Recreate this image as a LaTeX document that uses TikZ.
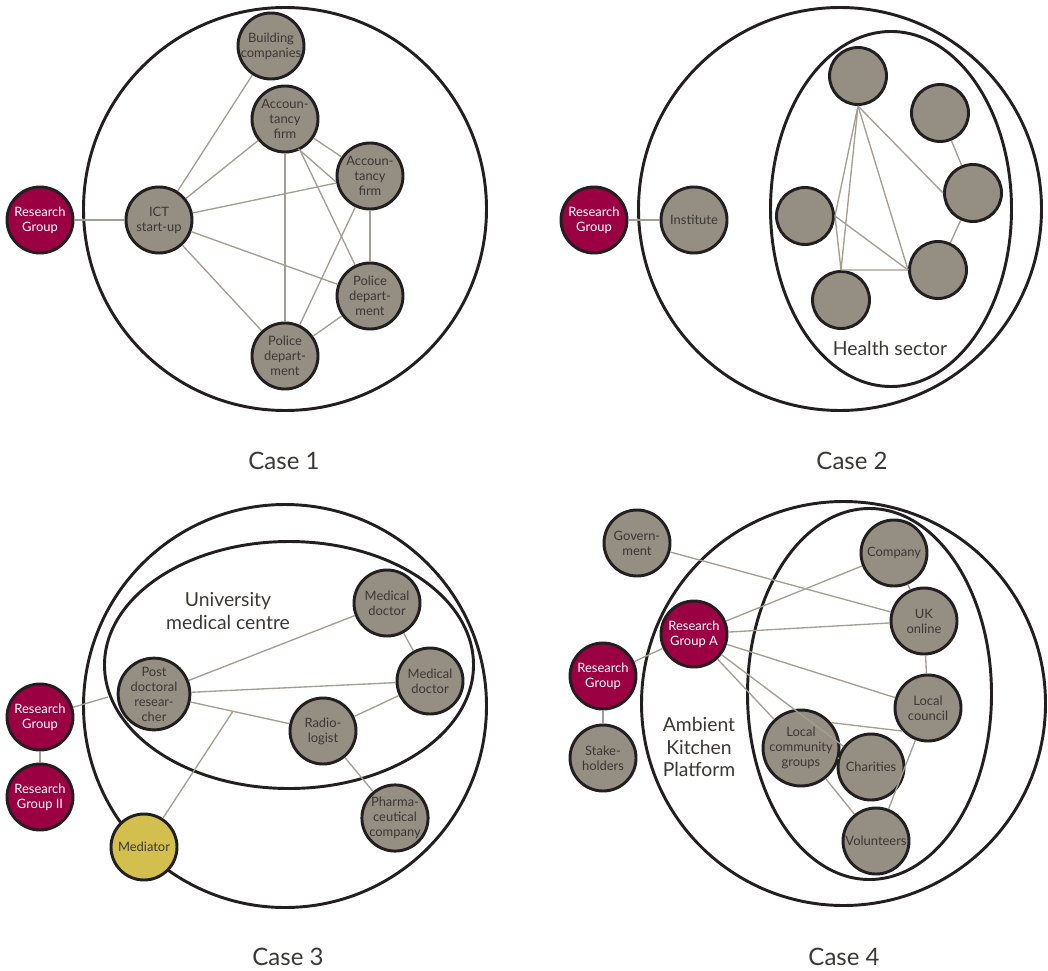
\documentclass[tikz,border=0pt]{standalone}
\usepackage{fontspec}
\setmainfont{Lato}
\usetikzlibrary{shapes.geometric,calc}
\definecolor{ngrey}{HTML}{958E82}
\definecolor{maroon}{HTML}{9B0042}
\definecolor{mustard}{HTML}{D3BF4E}
\definecolor{egrey}{HTML}{A39D92}
\definecolor{bord}{HTML}{231F20}
\definecolor{txtg}{HTML}{3B3734}
\begin{document}
\begin{tikzpicture}[x=0.75pt,y=-0.75pt,
  nd/.style={circle, draw=bord, line width=2.2pt, minimum size=49.5pt, inner sep=0pt, align=center, font=\fontsize{9.7}{11.25}\selectfont, text=txtg},
  gnode/.style={nd, fill=ngrey},
  rnode/.style={nd, fill=maroon, text=white},
  ynode/.style={nd, fill=mustard},
  hnode/.style={nd, fill=ngrey, minimum size=42.75pt},
  edge/.style={draw=egrey, line width=1pt},
  ring/.style={draw=bord, line width=2.2pt, inner sep=0pt},
  biglabel/.style={align=center, font=\fontsize{14.5}{16.8}\selectfont, text=txtg},
  caselabel/.style={font=\fontsize{18}{22}\selectfont, text=txtg}]
\useasboundingbox (0,0) rectangle (1048,970);
% ---------- rings ----------
\node[ring, circle, minimum size=302.25pt] (C1) at (285,209) {};
\node[ring, circle, minimum size=302.25pt] (C2) at (840,209) {};
\node[ring, ellipse, minimum width=180.75pt, minimum height=266.25pt] (E2) at (891,209) {};
\node[ring, circle, minimum size=302.25pt] (C3) at (285,706) {};
\node[ring, ellipse, minimum width=276.75pt, minimum height=185.25pt] (E3) at (289,665) {};
\node[ring, circle, minimum size=303pt] (C4) at (843.5,703.5) {};
\node[ring, ellipse, minimum width=183pt, minimum height=278.25pt] (E4) at (869.5,694) {};
% ---------- Case 1 ----------
\node[rnode] (rg1) at (40,220) {Research\\Group};
\node[gnode] (ict) at (159,220) {ICT\\start-up};
\node[gnode] (bld) at (271,46) {Building\\companies};
\node[gnode] (acc1) at (285,119) {Accoun-\\tancy\\firm};
\node[gnode] (acc2) at (370,176) {Accoun-\\tancy\\firm};
\node[gnode] (polr) at (370,296) {Police\\depart-\\ment};
\node[gnode] (polb) at (285,356) {Police\\depart-\\ment};
\draw[edge] (rg1) -- (ict);
\draw[edge] (ict) -- (bld);
\draw[edge] (ict) -- (acc1);
\draw[edge] (ict) -- (acc2);
\draw[edge] (ict) -- (polr);
\draw[edge] (ict) -- (polb);
\draw[edge] (acc1) -- (polb);
\draw[edge] (acc1) -- (acc2);
\draw[edge] ([xshift=-3pt]acc1.-60) -- (acc2.-170);
\draw[edge] (acc1) -- (polr);
\draw[edge] (acc2) -- (polb);
\draw[edge] (acc2) -- (polr);
\draw[edge] (polr) -- (polb);
\node[caselabel] (cl1) at (284,461) {Case 1};
% ---------- Case 2 ----------
\node[rnode] (rg2) at (594,220) {Research\\Group};
\node[gnode] (inst) at (694,220) {Institute};
\node[hnode] (h1) at (858,76) {};
\node[hnode] (h2) at (940,113) {};
\node[hnode] (h3) at (973,193) {};
\node[hnode] (h4) at (805,216) {};
\node[hnode] (h5) at (938,270) {};
\node[hnode] (h6) at (841,300) {};
\draw[edge] (rg2) -- (inst);
\draw[edge] (h1.south) -- (h4.east);
\draw[edge] (h1.south) -- (h6.north);
\draw[edge] (h1.south) -- (h5.west);
\draw[edge] (h1.south) -- (h3.west);
\draw[edge] (h4.east) -- (h6.north);
\draw[edge] (h4.east) -- (h5.west);
\draw[edge] (h6.north) -- (h5.west);
\draw[edge] (h2) -- (h3);
\draw[edge] (h3) -- (h5);
\node[biglabel] (hs) at (890,348) {Health sector};
\node[caselabel] (cl2) at (852,461) {Case 2};
% ---------- Case 3 ----------
\node[rnode] (rg3) at (40,717) {Research\\Group};
\node[rnode] (rg3b) at (40,797) {Research\\Group II};
\node[gnode] (pd) at (154,694) {Post\\doctoral\\resear-\\cher};
\node[gnode] (md1) at (387,603) {Medical\\doctor};
\node[gnode] (md2) at (430,681) {Medical\\doctor};
\node[gnode] (rad) at (323,731) {Radio-\\logist};
\node[gnode] (ph) at (395,818) {Pharma-\\ceutical\\company};
\node[ynode] (med) at (144,847) {Mediator};
\coordinate (umc) at (108,697);
\coordinate (mj) at ($(pd)!0.467!(rad)$);
\draw[edge] (rg3) -- (umc);
\draw[edge] (rg3) -- (rg3b);
\draw[edge] (pd) -- (md1);
\draw[edge] (pd) -- (md2);
\draw[edge] (pd) -- (rad);
\draw[edge] (md1) -- (md2);
\draw[edge] (md2) -- (rad);
\draw[edge] (rad) -- (ph);
\draw[edge] (med) -- (mj);
\node[biglabel] (umcl) at (228,611) {University\\medical centre};
\node[caselabel] (cl3) at (288,957) {Case 3};
% ---------- Case 4 ----------
\node[gnode] (gov) at (637,543) {Govern-\\ment};
\node[gnode] (comp) at (894,553) {Company};
\node[gnode] (uk) at (924,621) {UK\\online};
\node[rnode] (rga) at (694,634) {Research\\Group A};
\node[rnode] (rg4) at (603,676) {Research\\Group};
\node[gnode] (stk) at (603,758) {Stake-\\holders};
\node[gnode] (lc) at (928,708) {Local\\council};
\node[gnode] (lcg) at (801,748) {Local\\community\\groups};
\node[gnode] (ch) at (871,767) {Charities};
\node[gnode] (vol) at (876,841) {Volunteers};
\draw[edge] (gov) -- (uk);
\draw[edge] (comp) -- (uk);
\draw[edge] (rga) -- (comp);
\draw[edge] (rga) -- (uk);
\draw[edge] (rga) -- (lc);
\draw[edge] (rga) -- (ch);
\draw[edge] (rga) -- (lcg);
\draw[edge] (rga) -- (rg4);
\draw[edge] (rg4) -- (stk);
\draw[edge] (uk) -- (lc);
\draw[edge] (lcg.40) -- (lc.222);
\draw[edge] (lc) -- (vol);
\draw[edge] (lcg) -- (ch);
\draw[edge] (lcg) -- (vol);
\node[biglabel, font=\fontsize{14.5}{17}\selectfont] (akp) at (699,747) {Ambient\\Kitchen\\Platform};
\node[caselabel] (cl4) at (844,957) {Case 4};
\end{tikzpicture}
\end{document}
